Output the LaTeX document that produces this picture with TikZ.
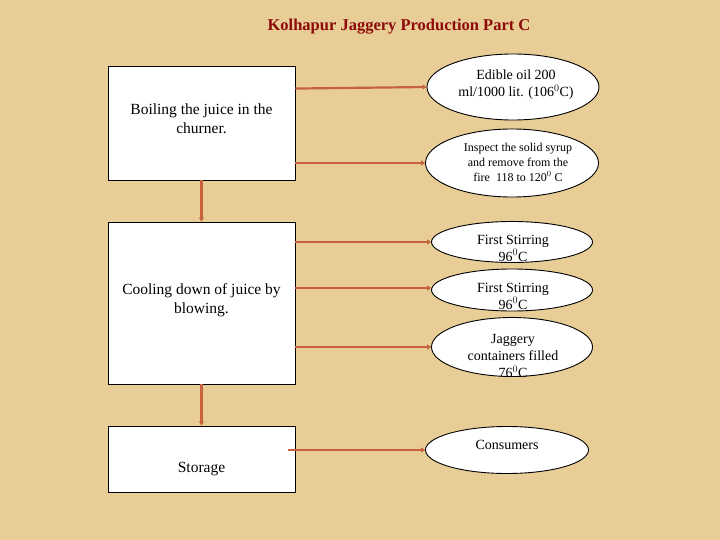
\documentclass[tikz,border=0pt]{standalone}
\usepackage{fontspec}
\setmainfont{Liberation Serif}
\usetikzlibrary{shapes.geometric,arrows.meta,calc}
\definecolor{parch}{RGB}{232,205,150}
\definecolor{conn}{RGB}{198,98,62}
\definecolor{titlered}{RGB}{140,10,10}
\tikzset{
  stepbox/.style={draw=black,line width=0.9pt,fill=white,rectangle,minimum width=187pt,inner sep=0pt},
  oval/.style={draw=black,line width=0.9pt,fill=white,ellipse,inner sep=0pt},
  boxtext/.style={align=center,font=\fontsize{15.5}{19}\selectfont,inner sep=0pt},
  ovaltext/.style={align=center,font=\fontsize{14}{17}\selectfont,inner sep=0pt},
  smalltext/.style={align=center,font=\fontsize{12}{15}\selectfont,inner sep=0pt},
  link/.style={draw=conn,line width=2.2pt,-{Triangle[length=4pt,width=5pt]}},
}
\begin{document}
\begin{tikzpicture}[x=1pt,y=-1pt]
\fill[parch] (0,0) rectangle (720,540);
\useasboundingbox (0,0) rectangle (720,540);

\node[font=\fontsize{16.5}{20}\bfseries\selectfont,text=titlered,inner sep=0pt] (title) at (399,27) {Kolhapur Jaggery Production Part C};

% boxes
\node[stepbox,minimum height=114pt] (b1) at (201.5,123) {};
\node[stepbox,minimum height=162pt] (b2) at (201.5,303) {};
\node[stepbox,minimum height=66pt] (b3) at (201.5,459) {};
\node[boxtext] (t1) at (201.5,119) {Boiling the juice in the\\churner.};
\node[boxtext] (t2) at (201.5,300) {Cooling down of juice by\\blowing.};
\node[boxtext] (t3) at (201.5,469) {Storage};

% ellipses
\node[oval,minimum width=172pt,minimum height=66pt] (e1) at (513,87) {};
\node[oval,minimum width=173pt,minimum height=68pt] (e2) at (512,163) {};
\node[oval,minimum width=161pt,minimum height=41pt] (e3) at (512,242) {};
\node[oval,minimum width=161pt,minimum height=42pt] (e4) at (512,290) {};
\node[oval,minimum width=161pt,minimum height=59pt] (e5) at (512,347) {};
\node[oval,minimum width=163pt,minimum height=47pt] (e6) at (507,450) {};

\node[ovaltext] (u1) at (516,85) {Edible oil 200\\ml/1000 lit. (106$^{0}$C)};
\node[smalltext] (u2) at (518,162) {Inspect the solid syrup\\and remove from the\\fire\ \ 118 to 120$^{0}$ C};
\node[ovaltext] (u3) at (513,248) {First Stirring\\96$^{0}$C};
\node[ovaltext] (u4) at (513,296) {First Stirring\\96$^{0}$C};
\node[ovaltext] (u5) at (513,356) {Jaggery\\containers filled\\76$^{0}$C};
\node[ovaltext] (u6) at (507,445) {Consumers};

% connectors
\draw[link] ($(b1.north east)+(0,23)$) -- (e1.west);
\draw[link] (b1.east |- e2.west) -- (e2.west);
\draw[link] (b1.south) -- (b2.north);
\draw[link] (b2.east |- e3.west) -- (e3.west);
\draw[link] ($(b2.east |- e4.west)+(0,-2)$) -- ($(e4.west)+(0,-2)$);
\draw[link] (b2.east |- e5.west) -- (e5.west);
\draw[link] (b2.south) -- (b3.north);
\draw[link] ($(b3.east |- e6.west)+(-7,0)$) -- (e6.west);
\end{tikzpicture}
\end{document}
